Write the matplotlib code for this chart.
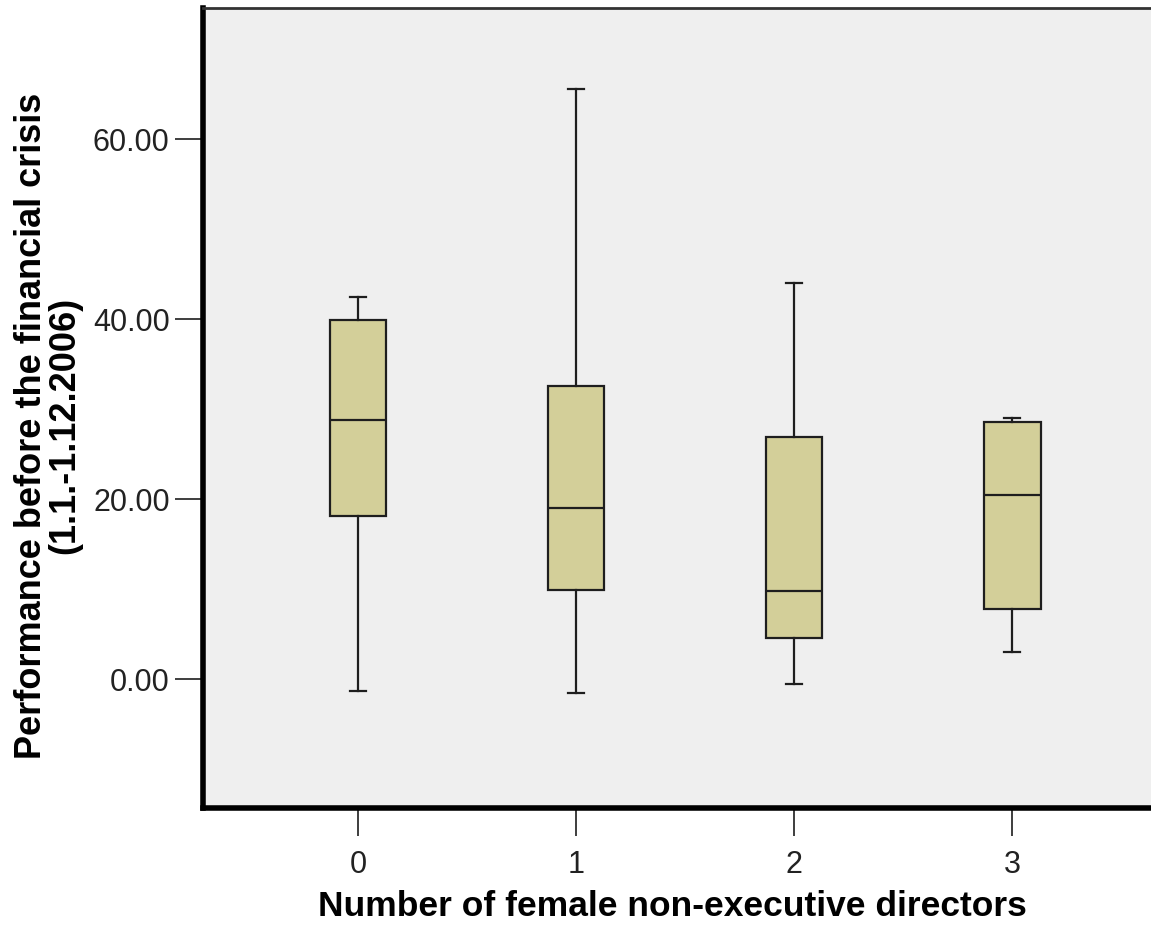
import matplotlib.pyplot as plt
import numpy as np

plt.rcParams['font.family'] = ['Liberation Sans', 'DejaVu Sans']

# number of female non-executive directors
groups = [0, 1, 2, 3]
whislo = [-1.3, -1.6, -0.6, 3.0]
q1 = [18.1, 9.9, 4.6, 7.8]
med = [28.8, 19.0, 9.8, 20.4]
q3 = [39.9, 32.6, 26.9, 28.6]
whishi = [42.4, 65.6, 44.0, 29.0]

stats = []
for i in range(len(groups)):
	stats.append({'whislo': whislo[i], 'q1': q1[i], 'med': med[i],
		'q3': q3[i], 'whishi': whishi[i], 'fliers': []})

fig = plt.figure(figsize=(11.51, 9.33), dpi=100)
ax = fig.add_axes([0.1764, 0.134, 0.8375, 0.8574])
ax.set_facecolor('#efefef')

lc = '#1e1e1e'
ax.bxp(stats, positions=groups, widths=0.26, patch_artist=True,
	showfliers=False,
	boxprops=dict(facecolor='#d3cf99', edgecolor=lc, linewidth=1.6),
	medianprops=dict(color=lc, linewidth=1.6),
	whiskerprops=dict(color=lc, linewidth=1.6),
	capprops=dict(color=lc, linewidth=1.6),
	capwidths=0.075)

ax.set_xlim(-0.71, 3.71)
ax.set_ylim(-14.33, 74.56)
ax.set_yticks([0, 20, 40, 60])
ax.set_yticklabels(['0.00', '20.00', '40.00', '60.00'])
ax.set_xticks(groups)
ax.set_xticklabels([str(g) for g in groups])
ax.tick_params(axis='both', length=20, width=1.2, color=lc, labelsize=22,
	labelcolor='#222222')
ax.tick_params(axis='y', pad=4)
ax.tick_params(axis='x', pad=10)

ax.spines['left'].set_linewidth(4)
ax.spines['bottom'].set_linewidth(4)
ax.spines['top'].set_linewidth(2)
ax.spines['top'].set_color('#333333')
ax.spines['right'].set_visible(False)

ax.set_xlabel('Number of female non-executive directors', fontsize=25.5,
	fontweight='bold')
ax.set_ylabel('Performance before the financial crisis\n(1.1.-1.12.2006)',
	fontsize=26, fontweight='bold', linespacing=0.95)
ax.xaxis.set_label_coords(0.4865, -0.103)
ax.yaxis.set_label_coords(-0.125, 0.478)

fig.savefig('out.png', dpi=100)
